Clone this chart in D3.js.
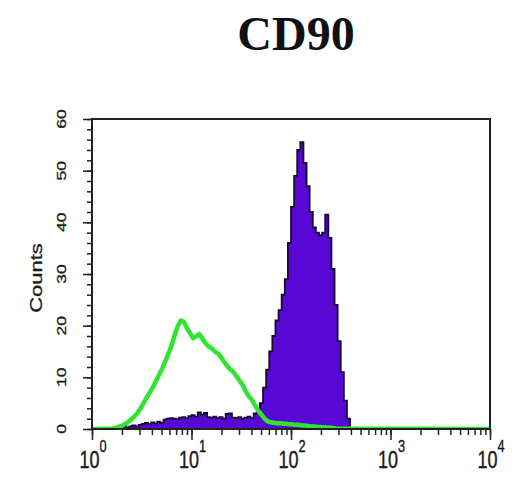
<!DOCTYPE html>
<html>
<head>
<meta charset="utf-8">
<script src="https://cdn.jsdelivr.net/npm/d3@7"></script>
<style>
  body { margin: 0; background: #fff; }
  svg { display: block; }
</style>
</head>
<body>
<div id="container"></div>
<script>
// chart text
let title = "CD90";
let yLabel = "Counts";
let xTickExponents = [0, 1, 2, 3, 4];
let yTickValues = [0, 10, 20, 30, 40, 50, 60];

// histogram channels, 32 per decade
let binsPerDecade = 32;

// CD90 stained sample (filled purple)
let purpleStartBin = 9;
let purpleCounts = [
  0.4, 0.6, 0.3, 0.5, 0.7, 0.5, 0.8, 1.0, 1.2, 1.0,
  1.3, 1.1, 1.4, 1.2, 1.8, 2.0, 2.1, 2.0, 1.9, 2.2,
  2.3, 2.1, 2.5, 2.7, 2.4, 3.2, 2.8, 3.1, 2.3, 2.2,
  2.4, 2.1, 2.3, 2.0, 2.9, 3.0, 2.2, 2.1, 2.3, 2.0,
  2.2, 2.4, 2.1, 3.0, 3.4, 5, 8, 11.5, 15, 18,
  21, 23, 26, 29, 36, 43, 49, 54, 55.5, 51.5,
  47, 42, 39, 38, 37.5, 38, 41.5, 37, 31, 24,
  17, 11, 5.5, 2
];

// isotype control (green line)
let greenStartBin = 6;
let greenCounts = [
  0.1, 0.2, 0.4, 0.6, 0.9, 1.3, 1.8, 2.4, 3.0, 3.9,
  4.9, 6.0, 7.0, 8.0, 9.2, 10.4, 11.6, 13.0, 14.5, 16.0,
  18.0, 19.8, 21.0, 20.8, 19.6, 18.6, 17.6, 17.9, 18.4, 17.5,
  16.6, 16.0, 15.6, 15.0, 14.6, 13.9, 13.0, 12.2, 11.5, 11.0,
  10.2, 9.3, 8.5, 7.2, 6.3, 5.6, 4.5, 3.5, 2.8, 2.0,
  1.5, 1.3, 1.2, 1.1, 1.1, 1.0, 1.0, 0.9, 0.9, 0.8,
  0.8, 0.7, 0.7, 0.6, 0.5, 0.5, 0.4, 0.4, 0.3, 0.3,
  0.3, 0.2, 0.1
];

let w = 525;
let h = 487;
let plotLeft = 92, plotRight = 490, plotTop = 119, plotBottom = 429;

let viz = d3.select("#container")
  .append("svg")
    .attr("width", w)
    .attr("height", h)
;
viz.append("rect").attr("width", w).attr("height", h).attr("fill", "#fff");

let xScale = d3.scaleLog().domain([1, 10000]).range([plotLeft, plotRight]);
let yScale = d3.scaleLinear().domain([0, 60]).range([plotBottom, plotTop]);

function binEdge(c){ return Math.pow(10, c / binsPerDecade); }

viz.append("clipPath").attr("id", "plotclip")
  .append("rect")
    .attr("x", plotLeft).attr("y", plotTop - 5)
    .attr("width", plotRight - plotLeft).attr("height", plotBottom - plotTop + 5);

let graphGroup = viz.append("g").attr("clip-path", "url(#plotclip)");

// purple filled step histogram
let purpleData = purpleCounts.map(function(d, i){
  return { x: binEdge(purpleStartBin + i), count: d };
});
purpleData.push({ x: binEdge(purpleStartBin + purpleCounts.length), count: purpleCounts[purpleCounts.length - 1] });

let areaMaker = d3.area()
  .curve(d3.curveStepAfter)
  .x(function(d){ return xScale(d.x); })
  .y0(yScale(0))
  .y1(function(d){ return yScale(d.count); })
;
graphGroup.append("path")
  .datum(purpleData)
  .attr("d", areaMaker)
  .attr("fill", "#5808d4")
  .attr("stroke", "#180830")
  .attr("stroke-width", 1.8)
  .attr("stroke-linejoin", "miter")
;

// green open histogram line
let greenData = greenCounts.map(function(d, i){
  return { x: binEdge(greenStartBin + i + 0.5), count: d };
});
greenData.unshift({ x: 1, count: 0 });
greenData.push({ x: 10000, count: 0 });

let lineMaker = d3.line()
  .x(function(d){ return xScale(d.x); })
  .y(function(d){ return yScale(d.count); })
;
graphGroup.append("path")
  .datum(greenData)
  .attr("d", lineMaker)
  .attr("fill", "none")
  .attr("stroke", "#30e530")
  .attr("stroke-width", 4.5)
  .attr("stroke-linejoin", "round")
;

// frame
viz.append("rect")
  .attr("x", plotLeft).attr("y", plotTop)
  .attr("width", plotRight - plotLeft).attr("height", plotBottom - plotTop)
  .attr("fill", "none")
  .attr("stroke", "#222")
  .attr("stroke-width", 2)
;

// y axis ticks
let yMinorGroup = viz.append("g").attr("transform", "translate(" + plotLeft + ",0)");
yMinorGroup.call(d3.axisLeft(yScale).tickValues(d3.range(0, 61, 2)).tickSize(5).tickFormat(""));
let yMajorGroup = viz.append("g").attr("transform", "translate(" + plotLeft + ",0)");
yMajorGroup.call(d3.axisLeft(yScale).tickValues(yTickValues).tickSize(9).tickFormat(""));

// x axis ticks
let xMinorGroup = viz.append("g").attr("transform", "translate(0," + plotBottom + ")");
xMinorGroup.call(d3.axisBottom(xScale).tickValues(xScale.ticks()).tickSize(6).tickFormat(""));
let xMajorGroup = viz.append("g").attr("transform", "translate(0," + plotBottom + ")");
xMajorGroup.call(d3.axisBottom(xScale).tickValues(xTickExponents.map(function(e){ return Math.pow(10, e); })).tickSize(11).tickFormat(""));

viz.selectAll(".domain").remove();
viz.selectAll(".tick line").attr("stroke", "#222").attr("stroke-width", 1.5);

// y tick labels, rotated
viz.selectAll(".ylabel").data(yTickValues).enter()
  .append("text")
    .attr("class", "ylabel")
    .attr("transform", function(d){ return "translate(66," + yScale(d) + ") scale(0.74,1) rotate(-90)"; })
    .attr("text-anchor", "middle")
    .attr("font-family", "Liberation Sans, Arial, sans-serif")
    .attr("font-size", 17.5)
    .attr("fill", "#1a1a1a")
    .attr("stroke", "#1a1a1a")
    .attr("stroke-width", 0.4)
    .text(function(d){ return d; })
;

viz.append("text")
  .attr("transform", "translate(42,278) scale(0.74,1) rotate(-90)")
  .attr("text-anchor", "middle")
  .attr("font-family", "Liberation Sans, Arial, sans-serif")
  .attr("font-size", 22)
  .attr("fill", "#1a1a1a")
  .attr("stroke", "#1a1a1a")
  .attr("stroke-width", 0.4)
  .text(yLabel)
;

// x tick labels 10^n
let xLabels = viz.selectAll(".xlabel").data(xTickExponents).enter()
  .append("g")
    .attr("class", "xlabel")
    .attr("transform", function(d){ return "translate(" + (xScale(Math.pow(10, d)) + 1) + ",468) scale(0.75,1)"; })
;
let xText = xLabels.append("text")
  .attr("text-anchor", "middle")
  .attr("font-family", "Liberation Sans, Arial, sans-serif")
  .attr("font-size", 24)
  .attr("fill", "#1a1a1a")
  .attr("stroke", "#1a1a1a")
  .attr("stroke-width", 0.4)
;
xText.append("tspan").text("10");
xText.append("tspan")
  .attr("font-size", 17)
  .attr("dy", -16)
  .text(function(d){ return d; });

// title
viz.append("text")
  .attr("x", 296)
  .attr("y", 50)
  .attr("text-anchor", "middle")
  .attr("font-family", "Liberation Serif, Times New Roman, serif")
  .attr("font-weight", "bold")
  .attr("font-size", 48)
  .attr("fill", "#111")
  .text(title)
;
</script>
</body>
</html>
